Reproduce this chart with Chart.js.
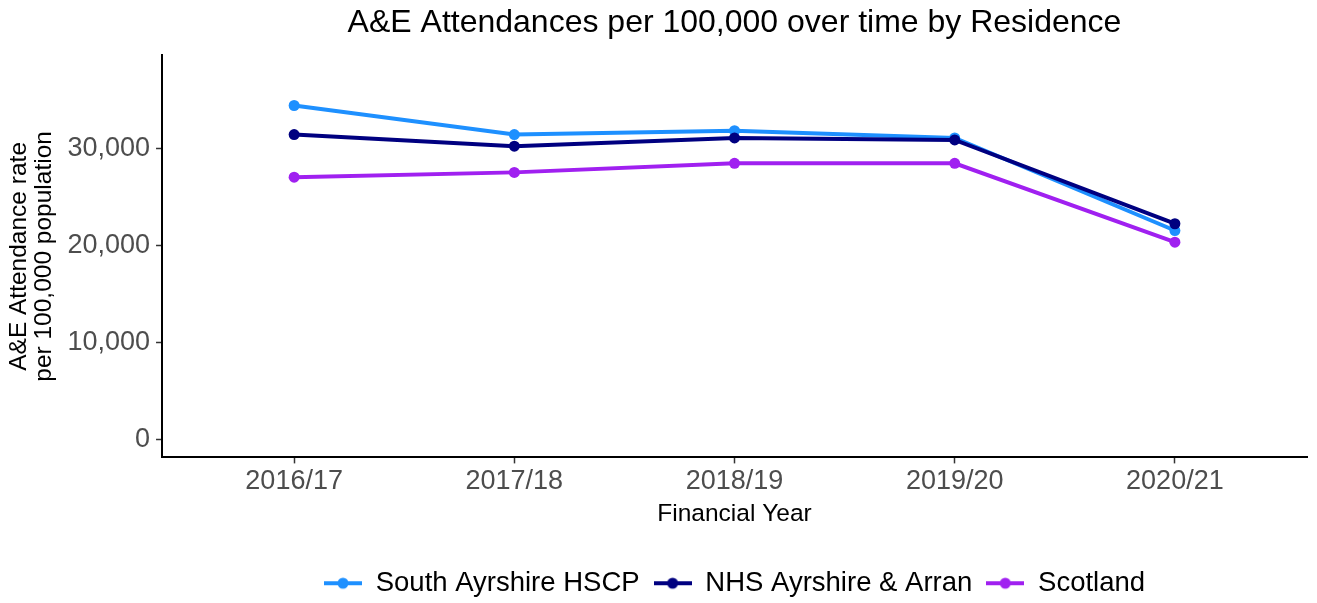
<!DOCTYPE html>
<html>
<head>
<meta charset="utf-8">
<script src="https://cdn.jsdelivr.net/npm/chart.js@4"></script>
<style>
  html, body { margin: 0; padding: 0; background: #fff; }
  #wrap { width: 1317px; height: 603px; }
</style>
</head>
<body>
<div id="wrap"><canvas id="chart"></canvas></div>
<script>
// data
var categories = ["2016/17", "2017/18", "2018/19", "2019/20", "2020/21"];
var southAyrshire = [34450, 31450, 31850, 31100, 21550];
var nhsAyrshire = [31450, 30250, 31100, 30900, 22250];
var scotland = [27050, 27550, 28480, 28480, 20350];
var yTicks = [0, 10000, 20000, 30000];
var seriesNames = ["South Ayrshire HSCP", "NHS Ayrshire & Arran", "Scotland"];
var seriesColours = ["#1E90FF", "#000080", "#A020F0"];

var FONT = "'Liberation Sans', Arial, sans-serif";

function toPoints(arr) {
	return arr.map(function (v, i) { return { x: i, y: v }; });
}

// little line + dot marker for the legend
function legendMarker(colour) {
	var c = document.createElement("canvas");
	c.width = 38;
	c.height = 14;
	var g = c.getContext("2d");
	g.strokeStyle = colour;
	g.lineWidth = 4;
	g.beginPath();
	g.moveTo(0, 7);
	g.lineTo(38, 7);
	g.stroke();
	g.fillStyle = colour;
	g.beginPath();
	g.arc(19, 7, 5.5, 0, Math.PI * 2);
	g.fill();
	return c;
}

var allSeries = [southAyrshire, nhsAyrshire, scotland];
var datasets = allSeries.map(function (s, i) {
	return {
		label : seriesNames[i],
		data : toPoints(s),
		borderColor : seriesColours[i],
		backgroundColor : seriesColours[i],
		borderWidth : 4,
		pointRadius : 5.5,
		pointHoverRadius : 5.5,
		pointBorderWidth : 0,
		tension : 0,
		order : 3 - i
	};
});

var ctx = document.getElementById("chart");

var chart = new Chart(ctx, {
	type : "line",
	data : { datasets : datasets },
	options : {
		responsive : true,
		maintainAspectRatio : false,
		animation : false,
		layout : { padding : { left : 6, right : 10, top : 0, bottom : -4 } },
		plugins : {
			title : {
				display : true,
				text : "A&E Attendances per 100,000 over time by Residence",
				fullSize : false,
				color : "#000",
				font : { family : FONT, size : 32, weight : "normal" },
				padding : { top : 4, bottom : 13 }
			},
			legend : {
				display : true,
				position : "bottom",
				fullSize : false,
				labels : {
					usePointStyle : true,
					pointStyleWidth : 38,
					padding : 14,
					color : "#000",
					font : { family : FONT, size : 27.5 },
					generateLabels : function (ch) {
						return ch.data.datasets.map(function (d, i) {
							return {
								text : d.label,
								pointStyle : legendMarker(seriesColours[i]),
								fillStyle : seriesColours[i],
								strokeStyle : seriesColours[i],
								lineWidth : 0,
								datasetIndex : i,
								hidden : false
							};
						});
					}
				}
			},
			tooltip : { enabled : false }
		},
		scales : {
			x : {
				type : "linear",
				min : -0.6,
				max : 4.6,
				afterBuildTicks : function (axis) {
					axis.ticks = categories.map(function (c, i) { return { value : i }; });
				},
				ticks : {
					autoSkip : false,
					maxRotation : 0,
					color : "#4d4d4d",
					padding : 3,
					font : { family : FONT, size : 27, lineHeight : 1.1 },
					callback : function (v) { return categories[v]; }
				},
				grid : { drawOnChartArea : false, color : "#333", tickLength : 6, tickWidth : 1.5 },
				border : { color : "#000", width : 2 },
				title : {
					display : true,
					text : "Financial Year",
					color : "#000",
					font : { family : FONT, size : 24.5 },
					padding : { top : 0, bottom : 27 }
				}
			},
			y : {
				min : -1860,
				max : 39620,
				afterBuildTicks : function (axis) {
					axis.ticks = yTicks.map(function (v) { return { value : v }; });
				},
				ticks : {
					color : "#4d4d4d",
					padding : 6,
					font : { family : FONT, size : 27 },
					callback : function (v) { return v.toLocaleString("en-GB"); }
				},
				grid : { drawOnChartArea : false, color : "#333", tickLength : 6, tickWidth : 1.5 },
				border : { color : "#000", width : 2 },
				title : {
					display : true,
					text : ["A&E Attendance rate", "per 100,000 population"],
					color : "#000",
					font : { family : FONT, size : 24.5, lineHeight : 1.05 },
					padding : { top : 0, bottom : 4 }
				}
			}
		}
	}
});
</script>
</body>
</html>
